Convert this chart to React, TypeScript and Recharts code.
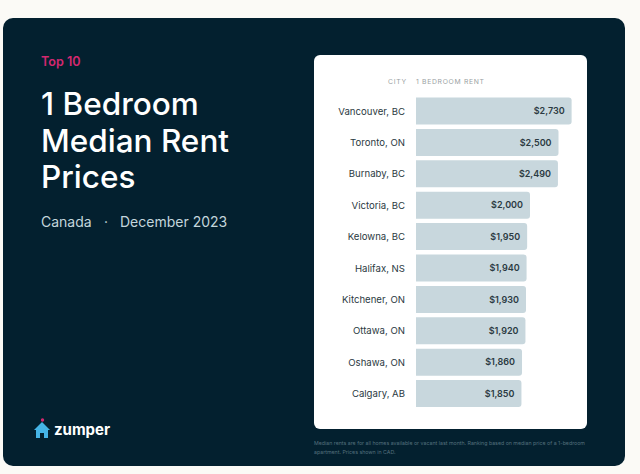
import React from "react";
import { BarChart, Bar, XAxis, YAxis, LabelList } from "recharts";

const cities = ["Vancouver, BC", "Toronto, ON", "Burnaby, BC", "Victoria, BC", "Kelowna, BC", "Halifax, NS", "Kitchener, ON", "Ottawa, ON", "Oshawa, ON", "Calgary, AB"];
const rents = [2730, 2500, 2490, 2000, 1950, 1940, 1930, 1920, 1860, 1850];
const titleLines = ["1 Bedroom", "Median Rent", "Prices"];
const footnoteLines = [
  "Median rents are for all homes available or vacant last month. Ranking based on median price of a 1-bedroom",
  "apartment. Prices shown in CAD.",
];

const data = cities.map((city, i) => ({ city, rent: rents[i] }));
const FONT = "Inter, 'Noto Sans', sans-serif";

const abs = (left: number, top: number, extra: React.CSSProperties = {}): React.CSSProperties => ({
  position: "absolute",
  left,
  top,
  whiteSpace: "nowrap",
  fontFamily: FONT,
  ...extra,
});

export default function App() {
  return (
    <div style={{ position: "absolute", left: 0, top: 0, width: 640, height: 474, background: "#fbfaf6", overflow: "hidden" }}>
      <div style={{ position: "absolute", left: 3, top: 18, width: 622, height: 448, borderRadius: 10, background: "#03202f" }} />
      <div style={{ position: "absolute", left: 314, top: 55, width: 273, height: 374, borderRadius: 6, background: "#ffffff" }} />

      <div style={abs(41, 54, { fontSize: 12.6, lineHeight: "16px", fontWeight: 600, color: "#d3286f" })}>Top 10</div>
      {titleLines.map((line, i) => (
        <div key={line} style={abs(41, 85 + i * 36.5, { fontSize: 31.5, lineHeight: "37px", fontWeight: 500, color: "#ffffff" })}>{line}</div>
      ))}
      <div style={abs(41, 213, { fontSize: 14, lineHeight: "18px", color: "#c4d6dc" })}>Canada</div>
      <div style={abs(104, 213, { fontSize: 14, lineHeight: "18px", color: "#c4d6dc" })}>·</div>
      <div style={abs(120, 213, { fontSize: 14, lineHeight: "18px", color: "#c4d6dc" })}>December 2023</div>

      <svg style={{ position: "absolute", left: 33, top: 417 }} width="18" height="22" viewBox="0 0 18 22">
        <circle cx="9.5" cy="3" r="1.7" fill="#d3286f" />
        <path d="M9 5 L17 13 L15 13 L15 21 L11 21 L11 16 L7 16 L7 21 L3 21 L3 13 L1 13 Z" fill="#45b4e6" />
      </svg>
      <div style={abs(54, 420, { fontSize: 15, lineHeight: "19px", fontWeight: 700, color: "#ffffff" })}>zumper</div>

      <div style={abs(388, 77, { fontSize: 6.8, lineHeight: "10px", letterSpacing: 0.7, color: "#9a9fa3" })}>CITY</div>
      <div style={abs(416, 77, { fontSize: 6.8, lineHeight: "10px", letterSpacing: 0.7, color: "#9a9fa3" })}>1 BEDROOM RENT</div>

      <div style={{ position: "absolute", left: 0, top: 0 }}>
        <BarChart
          width={640}
          height={474}
          data={data}
          layout="vertical"
          margin={{ top: 95.5, right: 53, bottom: 64.5, left: 316 }}
          barSize={27}
        >
          <XAxis type="number" domain={[0, 3000]} hide />
          <YAxis
            type="category"
            dataKey="city"
            width={100}
            axisLine={false}
            tickLine={false}
            tickMargin={5}
            interval={0}
            tick={{ fontSize: 9.6, fill: "#2b3a42", fontFamily: FONT }}
          />
          <Bar dataKey="rent" fill="#c8d7dd" radius={[0, 3, 3, 0]} isAnimationActive={false}>
            <LabelList
              dataKey="rent"
              position="insideRight"
              offset={7}
              formatter={(v: number) => "$" + v.toLocaleString("en-US")}
              style={{ fontSize: 9, fontWeight: 600, fill: "#2b3a42", fontFamily: FONT }}
            />
          </Bar>
        </BarChart>
      </div>

      {footnoteLines.map((line, i) => (
        <div key={line} style={abs(314, 439 + i * 9, { fontSize: 5.25, lineHeight: "8px", color: "#54707d" })}>{line}</div>
      ))}
    </div>
  );
}
